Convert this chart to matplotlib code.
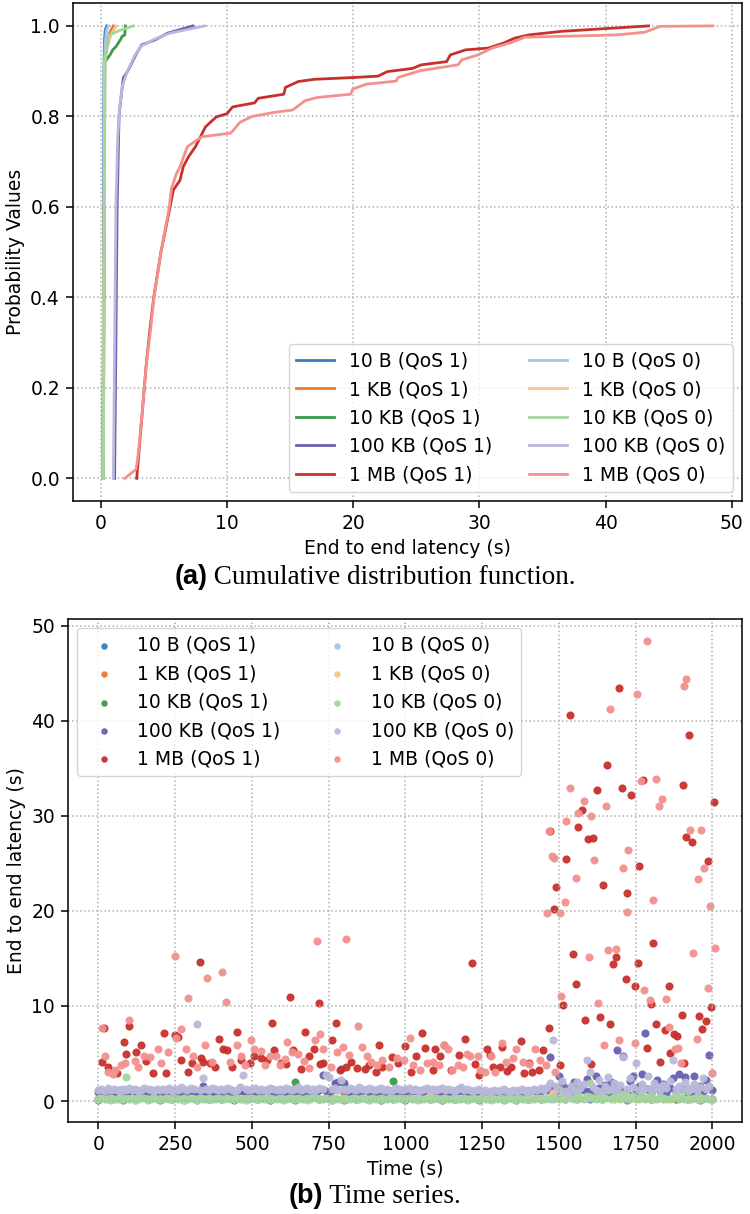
import numpy as np
import matplotlib
matplotlib.use("Agg")
from matplotlib import pyplot as plt
from matplotlib.ticker import MultipleLocator

# ---------------------------------------------------------------- labels / colours
sizes = ["10 B", "1 KB", "10 KB", "100 KB", "1 MB"]
colors_qos1 = ["#3a7cc2", "#ea7a2c", "#3b9a4b", "#6a5fb0", "#c8302c"]
colors_qos0 = ["#a6c5e8", "#f8c48f", "#a3d69f", "#b9b9dc", "#f3918d"]

# ---------------------------------------------------------------- (a) CDF, latency (s) vs probability
cdf_10b_q1_lat = [0.15, 0.20, 0.25, 0.30, 0.35, 0.47]
cdf_10b_q1_p = [0.0, 0.30, 0.90, 0.97, 0.99, 1.0]
cdf_10b_q0_lat = [0.15, 0.22, 0.28, 0.35, 0.45, 0.60]
cdf_10b_q0_p = [0.0, 0.30, 0.90, 0.96, 0.99, 1.0]
cdf_1kb_q1_lat = [0.18, 0.25, 0.32, 0.45, 0.70, 1.00]
cdf_1kb_q1_p = [0.0, 0.50, 0.93, 0.96, 0.985, 1.0]
cdf_1kb_q0_lat = [0.18, 0.26, 0.33, 0.50, 0.80, 1.22]
cdf_1kb_q0_p = [0.0, 0.50, 0.92, 0.95, 0.98, 1.0]
cdf_10kb_q1_lat = [0.20, 0.28, 0.32, 0.74, 0.95, 1.20, 1.55, 1.70, 1.90, 1.95]
cdf_10kb_q1_p = [0.0, 0.50, 0.92, 0.936, 0.947, 0.954, 0.969, 0.977, 0.98, 1.0]
cdf_10kb_q0_lat = [0.20, 0.28, 0.34, 0.68, 1.50, 2.58]
cdf_10kb_q0_p = [0.0, 0.50, 0.925, 0.98, 0.99, 1.0]
cdf_100kb_q1_lat = [1.10, 1.20, 1.30, 1.45, 1.58, 1.79, 2.19, 2.50, 2.85, 3.24, 4.30, 5.30, 7.30]
cdf_100kb_q1_p = [0.0, 0.30, 0.60, 0.80, 0.836, 0.885, 0.903, 0.92, 0.94, 0.958, 0.969, 0.984, 1.0]
cdf_100kb_q0_lat = [1.00, 1.10, 1.20, 1.34, 1.50, 1.70, 2.10, 2.70, 3.20, 4.20, 5.49, 8.25]
cdf_100kb_q0_p = [0.0, 0.30, 0.60, 0.75, 0.82, 0.865, 0.90, 0.935, 0.955, 0.97, 0.984, 1.0]
cdf_1mb_q1_lat = [2.85, 3.0, 3.3, 3.6, 3.9, 4.2, 4.77, 5.49, 5.75, 6.28, 6.54, 6.96, 7.5,
                  7.9, 8.3, 9.16, 10.0, 10.45, 12.2, 12.47, 14.5, 14.63, 15.64, 16.93,
                  20.1, 21.97, 22.7, 24.7, 25.4, 27.4, 27.7, 28.9, 30.7, 31.9, 32.8,
                  33.9, 36.5, 43.4]
cdf_1mb_q1_p = [0.0, 0.05, 0.15, 0.25, 0.33, 0.40, 0.50, 0.60, 0.637, 0.659, 0.689, 0.711,
                0.733, 0.755, 0.777, 0.799, 0.806, 0.821, 0.830, 0.840, 0.849, 0.864,
                0.877, 0.882, 0.886, 0.889, 0.899, 0.906, 0.914, 0.921, 0.936, 0.947,
                0.951, 0.962, 0.973, 0.980, 0.988, 1.0]
cdf_1mb_q0_lat = [1.9, 2.8, 3.0, 3.3, 3.6, 3.95, 4.22, 4.77, 5.43, 5.6, 6.0, 6.28, 6.86,
                  8.0, 10.3, 11.03, 12.0, 13.76, 15.2, 16.2, 17.2, 19.8, 19.95, 21.0,
                  23.4, 23.55, 25.3, 28.3, 28.6, 29.9, 31.0, 32.5, 33.6, 40.8, 43.1,
                  44.3, 48.5]
cdf_1mb_q0_p = [0.0, 0.02, 0.06, 0.15, 0.25, 0.33, 0.40, 0.50, 0.60, 0.64, 0.674, 0.689,
                0.733, 0.755, 0.763, 0.787, 0.800, 0.809, 0.814, 0.835, 0.842, 0.849,
                0.860, 0.871, 0.878, 0.886, 0.901, 0.914, 0.925, 0.936, 0.951, 0.963,
                0.975, 0.980, 0.986, 0.999, 1.0]

# ---------------------------------------------------------------- (b) time series
# small payloads were logged every 40 s, 10 KB (QoS 0) and 100 KB every 10 s
coarse_time = np.arange(0, 2001, 40)
fine_time = np.arange(0, 2001, 10)

ts_10b_q1 = [0.15, 0.20, 0.15, 0.20, 0.25, 0.15, 0.20, 0.15, 0.20, 0.25,
             0.20, 0.15, 0.20, 0.25, 0.15, 0.20, 0.15, 0.20, 0.25, 0.20,
             0.15, 0.20, 0.25, 0.15, 0.20, 0.15, 0.20, 0.25, 0.15, 0.20,
             0.20, 0.15, 0.25, 0.20, 0.15, 0.20, 0.25, 0.35, 0.20, 0.50,
             0.25, 0.20, 0.40, 0.15, 0.30, 0.20, 0.45, 0.20, 0.25, 0.15, 0.20]
ts_1kb_q1 = [0.20, 0.25, 0.20, 0.15, 0.25, 0.20, 0.25, 0.20, 0.15, 0.25,
             0.70, 0.20, 0.25, 0.20, 0.15, 0.25, 0.20, 0.25, 0.20, 0.15,
             0.90, 0.25, 0.20, 0.15, 0.25, 0.20, 0.25, 0.20, 0.15, 0.25,
             0.20, 0.25, 0.20, 0.15, 0.25, 0.20, 0.25, 0.30, 0.80, 0.25,
             0.40, 0.20, 0.30, 0.25, 0.50, 0.20, 0.30, 0.25, 0.20, 0.35, 0.20]
ts_10kb_q1 = [0.25, 0.20, 0.30, 0.25, 0.20, 0.30, 0.25, 0.20, 0.30, 0.25,
              0.20, 0.30, 0.25, 0.20, 0.30, 0.25, 2.00, 0.30, 0.20, 0.25,
              0.30, 0.20, 0.25, 0.30, 2.10, 0.25, 0.20, 0.30, 0.25, 0.20,
              0.30, 0.25, 0.20, 0.30, 0.25, 0.20, 0.30, 0.40, 0.60, 1.30,
              0.30, 0.50, 1.80, 0.80, 0.40, 0.30, 1.50, 0.30, 0.60, 0.30, 0.25]
ts_10b_q0 = [0.20, 0.15, 0.20, 0.25, 0.15, 0.20, 0.25, 0.20, 0.15, 0.20,
             0.25, 0.20, 0.15, 0.20, 0.25, 0.15, 0.20, 0.25, 0.20, 0.15,
             0.20, 0.25, 0.15, 0.20, 0.25, 0.20, 0.15, 0.20, 0.25, 0.20,
             0.15, 0.20, 0.25, 0.20, 0.15, 0.20, 0.30, 0.25, 0.40, 0.20,
             0.30, 0.50, 0.25, 0.20, 0.35, 0.25, 0.20, 0.40, 0.25, 0.20, 0.20]
ts_1kb_q0 = [0.25, 0.20, 0.25, 0.15, 0.20, 0.25, 0.20, 0.15, 0.25, 0.20,
             0.25, 0.20, 0.15, 0.25, 0.20, 0.25, 0.20, 0.15, 0.25, 0.20,
             0.25, 0.20, 0.15, 0.25, 0.20, 0.25, 0.20, 0.60, 0.25, 0.20,
             0.25, 0.20, 0.15, 0.25, 0.20, 0.25, 0.20, 0.80, 0.25, 0.30,
             0.40, 0.25, 0.20, 0.50, 0.25, 0.30, 0.20, 0.70, 0.25, 0.20, 0.25]
ts_10kb_q0 = [0.20, 0.30, 0.20, 0.25, 0.30, 0.20, 0.25, 0.20, 0.30, 2.50,
              0.20, 0.30, 0.25, 0.20, 0.30, 0.35, 0.20, 0.25, 0.30, 0.20,
              0.25, 0.20, 0.30, 0.25, 0.20, 0.30, 0.20, 0.25, 0.35, 0.20,
              0.30, 0.25, 0.20, 0.30, 0.25, 0.20, 0.30, 0.25, 0.20, 0.30,
              0.25, 0.20, 0.30, 0.20, 0.25, 0.30, 0.20, 0.25, 0.30, 0.20,
              0.30, 0.25, 0.20, 0.30, 0.25, 0.20, 0.35, 0.25, 0.20, 0.30,
              0.20, 0.25, 0.30, 0.20, 0.25, 0.30, 0.20, 0.25, 0.30, 0.20,
              0.45, 0.30, 0.25, 0.20, 0.30, 0.25, 0.20, 0.30, 0.25, 0.20,
              0.30, 0.25, 0.20, 0.30, 0.25, 0.20, 0.30, 0.25, 0.20, 0.30,
              0.25, 0.20, 0.30, 0.25, 0.20, 0.30, 0.25, 0.20, 0.30, 0.25,
              0.20, 0.30, 0.25, 0.20, 0.30, 0.25, 0.20, 0.30, 0.25, 0.20,
              0.30, 0.25, 0.20, 0.30, 0.25, 0.20, 0.30, 0.25, 0.20, 0.30,
              0.25, 0.20, 0.30, 0.25, 0.20, 0.30, 0.25, 0.20, 0.30, 0.25,
              0.20, 0.30, 0.25, 0.20, 0.30, 0.25, 0.20, 0.30, 0.25, 0.20,
              0.30, 0.25, 0.20, 0.30, 0.25, 0.20, 0.30, 0.25, 0.45, 0.30,
              0.25, 0.40, 0.20, 0.60, 0.30, 0.25, 0.80, 0.30, 0.20, 0.50,
              1.90, 0.30, 0.25, 0.60, 0.20, 0.30, 1.20, 0.25, 0.40, 0.30,
              0.20, 0.70, 0.30, 0.25, 0.50, 0.20, 0.30, 0.90, 0.25, 0.30,
              0.60, 0.25, 0.20, 0.40, 0.30, 0.25, 0.20, 0.30, 0.50, 0.25,
              0.30, 0.20, 1.10, 0.25, 0.30, 0.20, 0.40, 0.25, 0.30, 0.20,
              0.25]
ts_100kb_q1 = [1.0, 1.1, 1.0, 1.2, 1.1, 1.0, 1.1, 1.2, 1.0, 1.1,
               1.1, 1.0, 1.2, 1.1, 1.0, 1.1, 1.0, 1.2, 1.1, 1.0,
               1.1, 1.0, 1.1, 1.2, 1.0, 1.1, 1.0, 1.1, 1.2, 1.0,
               1.1, 1.2, 1.0, 1.1, 1.6, 1.0, 1.1, 1.0, 1.2, 1.1,
               1.0, 1.1, 1.2, 1.0, 1.1, 1.0, 1.2, 1.1, 1.0, 1.1,
               1.2, 1.0, 1.1, 1.0, 1.1, 1.2, 1.0, 1.1, 1.0, 1.2,
               1.1, 1.0, 1.1, 1.2, 1.0, 1.1, 1.0, 1.1, 1.2, 1.0,
               1.1, 1.0, 1.2, 2.7, 1.1, 1.0, 1.2, 1.9, 2.0, 3.4,
               1.9, 1.1, 1.0, 1.2, 1.1, 1.0, 1.1, 1.2, 1.0, 1.1,
               1.0, 1.1, 1.2, 1.0, 1.1, 1.0, 1.2, 1.1, 1.0, 1.1,
               1.1, 1.0, 1.1, 1.2, 1.0, 1.1, 1.0, 1.2, 1.1, 1.0,
               1.1, 1.0, 1.2, 1.1, 1.0, 1.1, 1.0, 1.1, 1.2, 1.0,
               1.0, 1.1, 0.9, 1.0, 1.1, 0.9, 1.0, 0.9, 1.0, 1.1,
               1.0, 0.9, 1.1, 1.0, 0.9, 1.0, 1.1, 0.9, 1.0, 1.1,
               1.0, 1.1, 1.2, 1.0, 1.1, 1.3, 1.2, 4.6, 1.5, 1.1,
               2.6, 1.8, 0.8, 1.4, 1.0, 2.0, 0.7, 1.5, 1.2, 2.3,
               1.1, 0.6, 2.6, 1.4, 0.9, 1.7, 0.8, 2.0, 1.3, 5.4,
               1.2, 4.7, 0.9, 2.1, 2.6, 1.1, 1.6, 2.8, 7.2, 1.3,
               0.9, 1.5, 2.2, 1.1, 1.8, 0.8, 1.4, 2.4, 1.0, 2.8,
               1.3, 2.5, 1.1, 0.9, 2.6, 1.2, 1.6, 1.0, 2.2, 4.8,
               1.2]
ts_100kb_q0 = [1.2, 1.3, 1.1, 1.4, 1.2, 1.3, 1.2, 1.1, 1.3, 1.2,
               1.4, 1.2, 1.3, 1.1, 1.2, 1.4, 1.3, 1.2, 1.1, 1.3,
               1.2, 1.3, 1.2, 1.4, 1.1, 1.3, 1.2, 1.5, 1.3, 1.2,
               1.4, 1.3, 8.1, 1.2, 2.4, 1.3, 1.2, 1.4, 1.3, 1.2,
               1.3, 1.2, 1.4, 1.3, 1.1, 1.2, 1.5, 2.7, 1.3, 1.2,
               1.3, 1.4, 1.2, 1.3, 1.2, 1.1, 1.4, 1.3, 1.2, 1.3,
               1.2, 1.4, 1.3, 1.2, 1.3, 1.5, 1.2, 1.3, 1.4, 1.2,
               1.3, 1.2, 1.4, 1.3, 2.7, 2.5, 1.3, 1.4, 1.2, 2.2,
               1.3, 1.2, 1.4, 1.3, 1.2, 1.5, 1.3, 1.2, 1.4, 1.3,
               1.2, 1.3, 1.4, 1.2, 1.3, 1.1, 1.2, 1.4, 1.3, 1.2,
               1.3, 1.4, 1.2, 1.3, 1.1, 1.2, 1.3, 1.4, 1.2, 1.3,
               1.2, 1.3, 1.4, 1.2, 1.3, 1.2, 1.1, 1.3, 1.5, 1.2,
               1.3, 1.2, 1.1, 1.2, 1.3, 1.1, 1.2, 1.0, 1.1, 1.2,
               1.1, 1.2, 1.3, 1.1, 1.0, 1.2, 1.1, 1.2, 1.3, 1.1,
               1.2, 1.1, 1.3, 1.2, 1.4, 1.2, 1.5, 1.9, 6.4, 1.6,
               1.3, 2.1, 1.1, 0.9, 1.6, 1.2, 2.0, 1.4, 1.8, 4.3,
               3.1, 1.5, 1.2, 2.2, 1.1, 1.6, 2.5, 1.3, 1.9, 1.2,
               1.7, 4.6, 1.3, 2.4, 1.5, 4.0, 1.2, 1.8, 1.4, 2.6,
               1.3, 1.9, 1.5, 1.2, 1.7, 1.4, 2.1, 4.3, 1.3, 1.6,
               1.2, 2.0, 1.4, 1.3, 1.8, 1.2, 1.5, 2.4, 1.3, 1.6,
               3.0]

mb_q1_time = [13, 17, 32, 60, 82, 89, 101, 121, 140, 154, 179, 212, 219, 251, 259, 269,
              291, 305, 331, 333, 341, 363, 380, 392, 406, 418, 435, 450, 464, 493, 507,
              529, 550, 565, 572, 594, 611, 623, 633, 659, 673, 687, 702, 720, 723, 733,
              762, 774, 788, 807, 824, 842, 867, 882, 903, 914, 925, 957, 976, 997, 1019,
              1033, 1055, 1063, 1091, 1095, 1112, 1124, 1148, 1174, 1194, 1216, 1225,
              1239, 1264, 1275, 1285, 1307, 1314, 1331, 1343, 1375, 1386, 1404, 1412,
              1434, 1447, 1467, 1470, 1484, 1491, 1502, 1513, 1523, 1535, 1545, 1555,
              1563, 1574, 1585, 1595, 1605, 1612, 1623, 1635, 1645, 1656, 1666, 1677,
              1686, 1695, 1704, 1718, 1723, 1736, 1746, 1756, 1762, 1773, 1787, 1801,
              1807, 1816, 1829, 1845, 1857, 1862, 1876, 1883, 1901, 1903, 1908, 1914,
              1923, 1932, 1957, 1966, 1980, 1984, 1996, 2005]
mb_q1_lat = [4.1, 7.65, 3.6, 2.9, 6.2, 4.9, 7.9, 5.2, 5.9, 4.2, 3.0, 7.2, 3.0, 6.9, 6.7, 4.3,
             3.1, 4.0, 14.6, 4.5, 4.1, 4.0, 3.6, 6.5, 5.5, 5.4, 3.6, 7.3, 4.3, 4.0, 4.7,
             4.5, 4.3, 8.2, 5.4, 4.0, 3.9, 10.9, 5.4, 3.4, 7.3, 4.7, 5.5, 10.3, 3.9, 4.0,
             6.4, 8.2, 3.3, 3.6, 4.1, 3.5, 3.4, 3.8, 3.1, 5.9, 3.6, 4.6, 4.0, 5.8, 3.1,
             4.7, 7.2, 5.6, 3.3, 5.5, 4.7, 5.9, 3.3, 4.8, 6.5, 14.5, 3.9,
             2.7, 5.5, 4.8, 3.6, 3.6, 5.7, 3.2, 3.6, 6.3, 3.0, 4.0, 3.1,
             3.3, 5.4, 7.7, 28.4, 20.2, 22.5, 3.8, 10.1, 25.5, 40.6, 15.5, 12.3,
             28.8, 30.6, 8.5, 27.6, 3.9, 27.7, 32.7, 8.8, 22.7, 35.3, 8.1, 14.4,
             15.1, 43.4, 32.9, 12.8, 21.9, 32.2, 12.1, 14.5, 24.7, 33.8, 5.6, 10.2,
             16.6, 8.1, 4.1, 7.5, 12.1, 5.1, 7.1, 6.8, 9.1, 33.2, 4.0, 27.8,
             38.5, 27.3, 8.9, 7.6, 8.4, 25.3, 9.9, 31.5]
mb_q0_time = [13, 22, 32, 46, 53, 72, 86, 101, 118, 130, 150, 169, 193, 205, 226, 251, 253,
              269, 284, 291, 308, 320, 346, 353, 370, 403, 414, 428, 450, 464, 478, 496,
              507, 529, 543, 558, 579, 591, 608, 615, 630, 651, 669, 687, 706, 713, 723,
              731, 759, 778, 795, 806, 817, 844, 860, 875, 889, 908, 925, 947, 971, 994,
              1014, 1026, 1048, 1069, 1091, 1110, 1127, 1137, 1153, 1170, 1187, 1199,
              1210, 1235, 1242, 1259, 1278, 1293, 1314, 1329, 1350, 1360, 1383, 1401,
              1422, 1437, 1458, 1460, 1468, 1476, 1484, 1487, 1504, 1506, 1520, 1523,
              1535, 1554, 1563, 1582, 1597, 1604, 1613, 1628, 1646, 1654, 1660, 1665,
              1686, 1697, 1707, 1723, 1726, 1747, 1754, 1767, 1778, 1786, 1797, 1807,
              1817, 1827, 1836, 1847, 1859, 1879, 1887, 1899, 1906, 1914, 1926, 1938,
              1948, 1953, 1964, 1973, 1984, 1991, 2000, 2009]
mb_q0_lat = [7.7, 4.7, 3.1, 2.8, 3.3, 3.8, 4.0, 8.5, 4.2, 3.6, 4.7, 4.6, 5.5, 4.0, 5.2, 15.3,
             6.6, 7.6, 5.5, 10.8, 4.7, 3.6, 5.9, 12.9, 4.1, 13.6, 10.4, 4.1, 5.9, 4.7,
             3.8, 6.4, 5.5, 5.3, 3.8, 4.7, 4.7, 3.8, 4.4, 6.2, 5.2, 4.9, 4.2, 3.5, 6.4,
             16.8, 7.1, 5.5, 3.6, 5.2, 5.7, 17.0, 4.8, 7.9, 5.7, 4.7, 4.1, 3.8, 4.3, 3.6,
             4.5, 4.3, 6.6, 3.8, 3.3, 4.0, 4.1, 3.8, 5.9, 5.5, 3.3, 3.8, 3.6, 5.0, 4.7,
             4.7, 3.3, 3.1, 4.7, 3.1, 6.1, 4.1, 4.5, 5.5, 4.1, 3.9, 5.5, 4.3, 3.8, 19.8,
             28.4, 25.8, 25.6, 3.1, 19.8, 11.0, 20.9, 29.5, 32.9, 23.5, 30.3, 31.6, 15.2,
             30.0, 25.4, 10.3, 5.9, 31.0, 15.9, 41.2, 16.0, 6.4, 24.5, 19.9, 26.4, 6.1,
             42.8, 33.7, 11.7, 48.4, 10.6, 21.1, 33.9, 31.0, 31.8, 10.7, 7.8, 5.5, 5.6,
             4.0, 43.7, 44.4, 28.5, 15.6, 6.5, 23.4, 28.5, 24.5, 11.9, 20.5, 2.9, 16.1]

FS = 13.5
plt.rcParams.update({
    "font.family": "DejaVu Sans",
    "font.size": FS,
    "axes.linewidth": 1.1,
    "xtick.major.width": 1.1,
    "ytick.major.width": 1.1,
    "xtick.major.size": 4.7,
    "ytick.major.size": 4.7,
    "xtick.major.pad": 4.7,
    "ytick.major.pad": 4.7,
    "legend.fontsize": FS,
})

fig = plt.figure(figsize=(7.5, 12.14), dpi=100)
ax1 = fig.add_axes([0.0973, 0.5873, 0.892, 0.410])
ax2 = fig.add_axes([0.0907, 0.0758, 0.899, 0.4143])

cdf_q1 = [(cdf_10b_q1_lat, cdf_10b_q1_p), (cdf_1kb_q1_lat, cdf_1kb_q1_p),
          (cdf_10kb_q1_lat, cdf_10kb_q1_p), (cdf_100kb_q1_lat, cdf_100kb_q1_p),
          (cdf_1mb_q1_lat, cdf_1mb_q1_p)]
cdf_q0 = [(cdf_10b_q0_lat, cdf_10b_q0_p), (cdf_1kb_q0_lat, cdf_1kb_q0_p),
          (cdf_10kb_q0_lat, cdf_10kb_q0_p), (cdf_100kb_q0_lat, cdf_100kb_q0_p),
          (cdf_1mb_q0_lat, cdf_1mb_q0_p)]

for (x, p), name, c in zip(cdf_q1, sizes, colors_qos1):
    ax1.plot(x, p, color=c, lw=2.0, label=f"{name} (QoS 1)")
for (x, p), name, c in zip(cdf_q0, sizes, colors_qos0):
    ax1.plot(x, p, color=c, lw=2.0, label=f"{name} (QoS 0)")

ax1.set_xlim(-2.2, 50.8)
ax1.set_ylim(-0.05, 1.05)
ax1.xaxis.set_major_locator(MultipleLocator(10))
ax1.yaxis.set_major_locator(MultipleLocator(0.2))
ax1.set_xlabel("End to end latency (s)")
ax1.set_ylabel("Probability Values")
ax1.grid(True, linestyle=":", color="#b0b0b0", linewidth=1.1)
ax1.legend(loc="lower right", ncol=2)

ts_q1 = [(coarse_time, ts_10b_q1), (coarse_time, ts_1kb_q1), (coarse_time, ts_10kb_q1),
         (fine_time, ts_100kb_q1), (mb_q1_time, mb_q1_lat)]
ts_q0 = [(coarse_time, ts_10b_q0), (coarse_time, ts_1kb_q0), (fine_time, ts_10kb_q0),
         (fine_time, ts_100kb_q0), (mb_q0_time, mb_q0_lat)]

for (t, y), name, c in zip(ts_q1, sizes, colors_qos1):
    ax2.scatter(t, y, s=34, color=c, linewidths=0, alpha=0.95, label=f"{name} (QoS 1)")
for (t, y), name, c in zip(ts_q0, sizes, colors_qos0):
    ax2.scatter(t, y, s=34, color=c, linewidths=0, alpha=0.95, label=f"{name} (QoS 0)")

ax2.set_xlim(-99, 2097)
ax2.set_ylim(-2.2, 50.7)
ax2.xaxis.set_major_locator(MultipleLocator(250))
ax2.yaxis.set_major_locator(MultipleLocator(10))
ax2.set_xlabel("Time (s)")
ax2.set_ylabel("End to end latency (s)")
ax2.grid(True, linestyle=":", color="#b0b0b0", linewidth=1.1)
ax2.legend(loc="upper left", ncol=2, markerscale=0.8)


def caption(y, bold, rest, size=19.5):
    # bold sans tag followed by serif caption text, centred as one line
    t1 = fig.text(0, y, bold, family="Liberation Sans", fontweight="bold", size=size, va="baseline")
    t2 = fig.text(0, y, rest, family="Liberation Serif", size=size, va="baseline")
    fig.canvas.draw()
    r = fig.canvas.get_renderer()
    w1 = t1.get_window_extent(r).width / fig.bbox.width
    w2 = t2.get_window_extent(r).width / fig.bbox.width
    x0 = 0.5 - (w1 + w2) / 2
    t1.set_x(x0)
    t2.set_x(x0 + w1)


caption(1 - 584 / 1214, "(a)", " Cumulative distribution function.")
caption(1 - 1203 / 1214, "(b)", " Time series.")

fig.savefig("out.png", dpi=100)
plt.close(fig)
